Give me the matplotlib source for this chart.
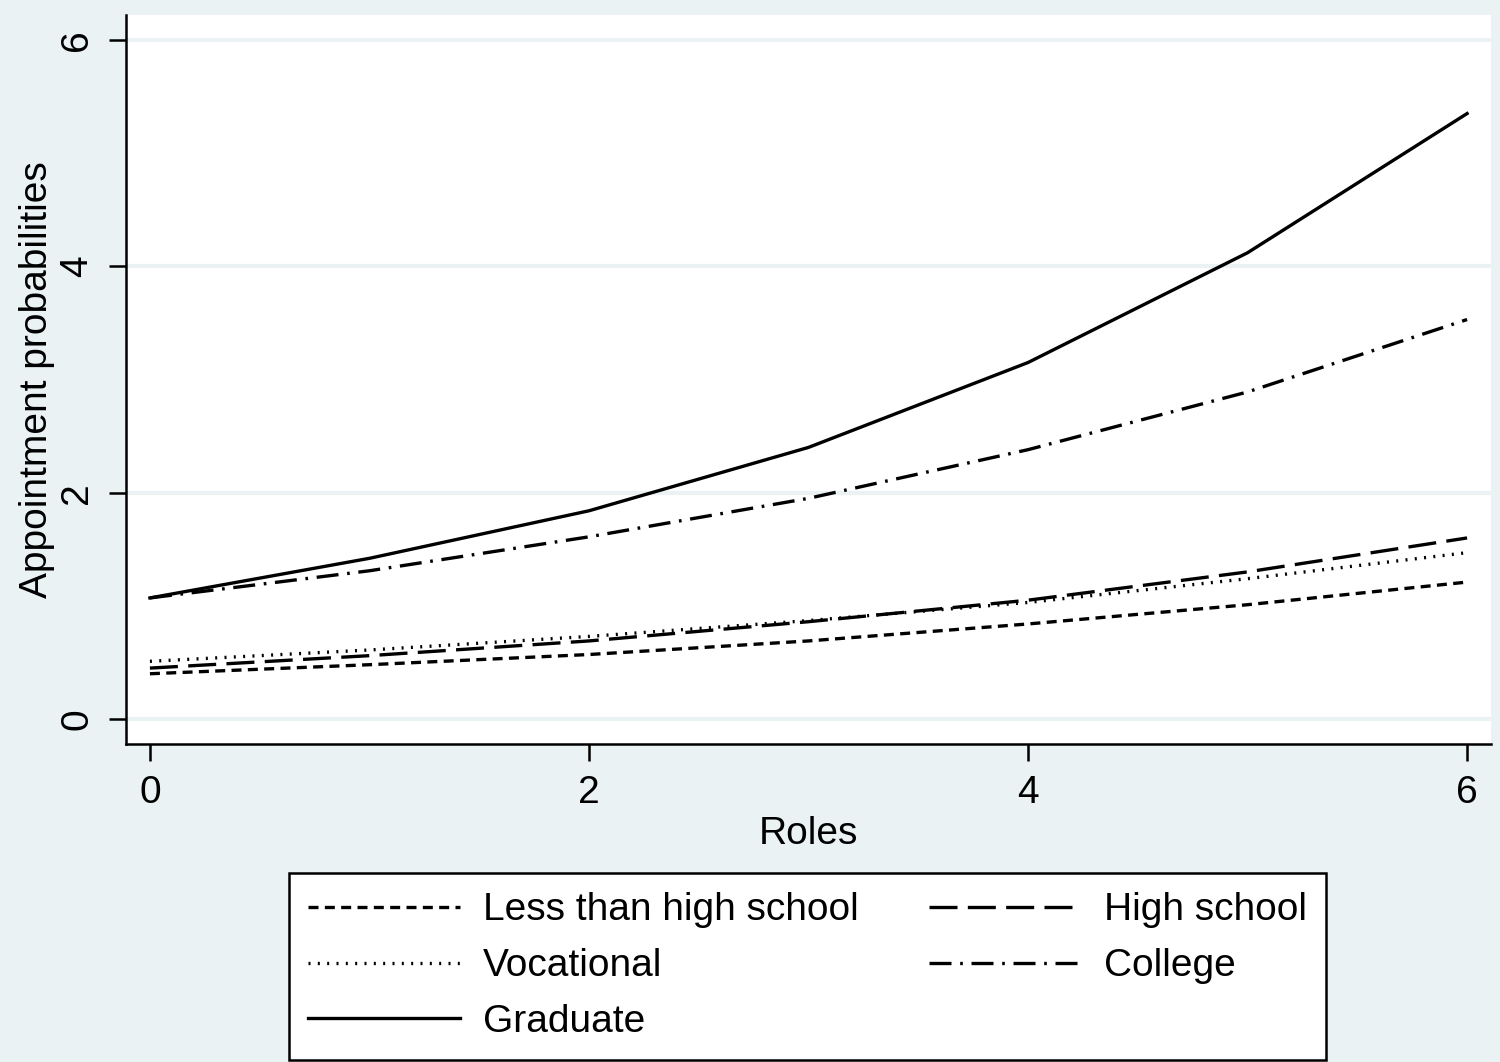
import matplotlib.pyplot as plt
import numpy as np

plt.rcParams["font.family"] = ["Liberation Sans", "DejaVu Sans"]

roles = np.arange(0, 7)
less_than_hs = [0.40, 0.48, 0.57, 0.69, 0.84, 1.01, 1.21]
high_school = [0.45, 0.56, 0.69, 0.86, 1.05, 1.30, 1.60]
vocational = [0.51, 0.61, 0.73, 0.87, 1.03, 1.24, 1.47]
college = [1.07, 1.31, 1.61, 1.95, 2.38, 2.89, 3.53]
graduate = [1.07, 1.42, 1.84, 2.40, 3.15, 4.12, 5.35]

# legend is filled column by column, so this order gives the 2-column layout
series = [
    ("Less than high school", less_than_hs, (3.0, 1.9)),
    ("Vocational", vocational, (0.6, 2.2)),
    ("Graduate", graduate, None),
    ("High school", high_school, (8.4, 3.1)),
    ("College", college, (6.6, 2.6, 0.8, 2.6)),
]

bg = "#eaf2f3"
fig = plt.figure(figsize=(15, 10.62), dpi=100, facecolor=bg)
ax = fig.add_axes([0.084, 0.2994, 0.91, 0.6865])
ax.set_facecolor("white")

lines = []
for name, vals, dash in series:
    (ln,) = ax.plot(roles, vals, color="black", lw=2.4, label=name)
    if dash is not None:
        ln.set_dashes(dash)
    lines.append(ln)

ax.set_xlim(-0.109, 6.109)
ax.set_ylim(-0.221, 6.221)
ax.set_xticks([0, 2, 4, 6])
ax.set_yticks([0, 2, 4, 6])
ax.yaxis.grid(True, color=bg, lw=3)
ax.set_axisbelow(True)

for side in ["top", "right"]:
    ax.spines[side].set_visible(False)
for side in ["left", "bottom"]:
    ax.spines[side].set_linewidth(1.8)
    ax.spines[side].set_color("black")

ax.tick_params(axis="both", length=12, width=1.8, pad=10, labelsize=28)
for lbl in ax.get_yticklabels():
    lbl.set_rotation(90)
    lbl.set_va("center")

ax.set_xlabel("Roles", fontsize=28, labelpad=4)
ax.set_ylabel("Appointment probabilities", fontsize=28, labelpad=3)

leg = fig.legend(
    handles=lines,
    ncol=2,
    loc="upper center",
    bbox_to_anchor=(0.5383, 0.178),
    borderaxespad=0,
    fontsize=28,
    handlelength=3.9,
    handletextpad=0.6,
    columnspacing=1.8,
    labelspacing=0.51,
    borderpad=0.5,
    fancybox=False,
    framealpha=1,
    edgecolor="black",
)
leg.get_frame().set_linewidth(1.8)

fig.savefig("out.png", dpi=100, facecolor=bg)
